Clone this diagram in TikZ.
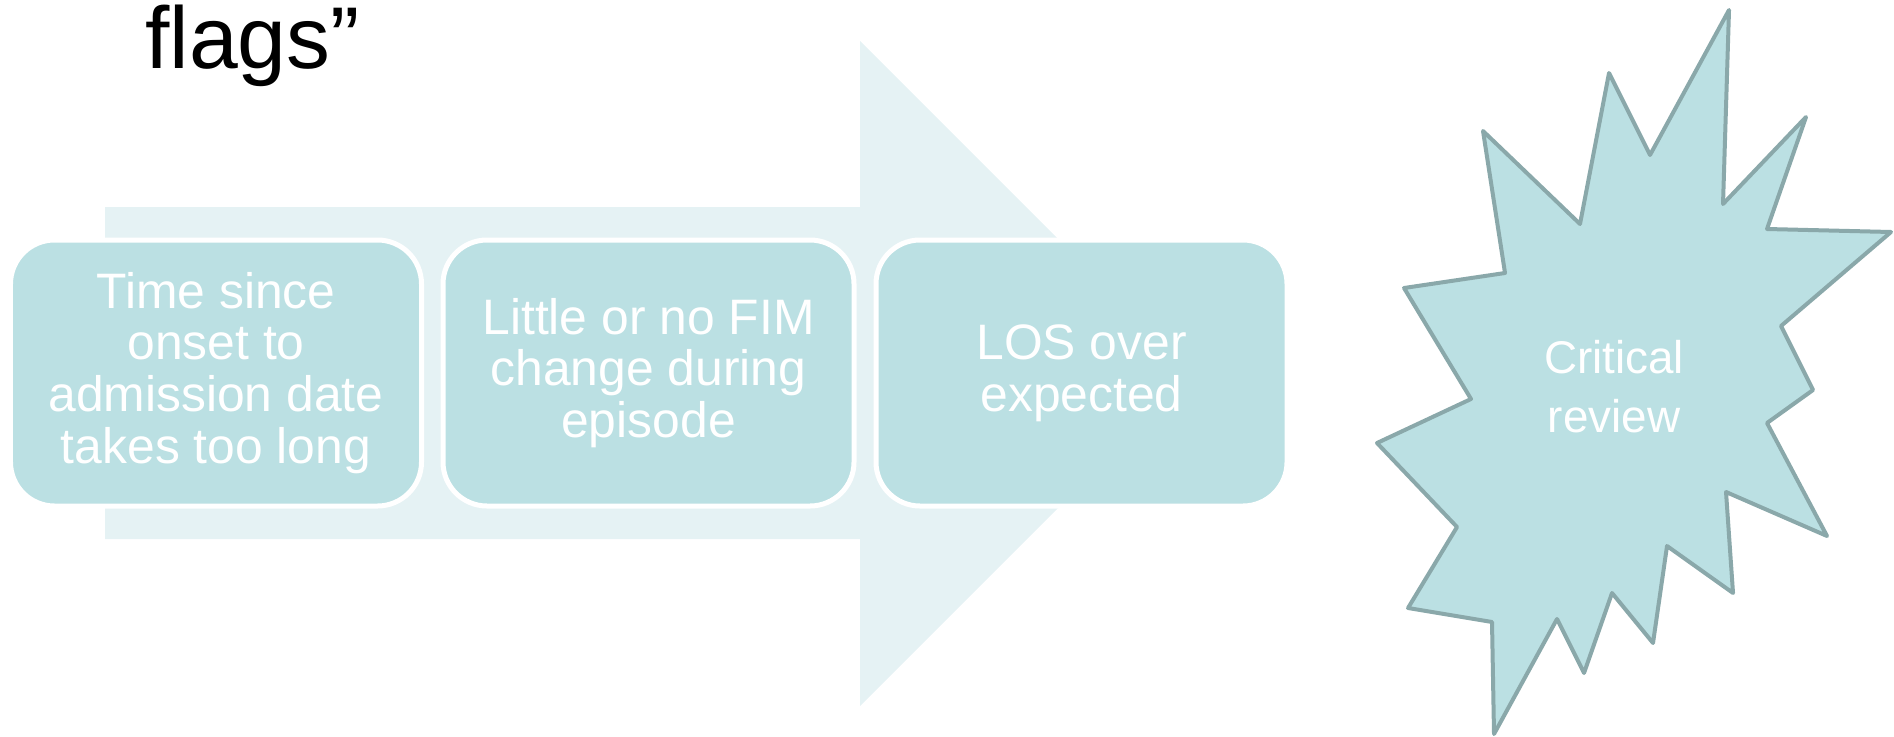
\documentclass[tikz,border=0pt]{standalone}
\usepackage{fontspec}
\setmainfont{Liberation Sans}
\definecolor{arrowtint}{HTML}{E5F2F4}
\definecolor{boxfill}{HTML}{BBE0E3}
\definecolor{starline}{HTML}{8AA8AA}
\begin{document}
\begin{tikzpicture}[x=0.5bp,y=-0.5bp,
  flagbox/.style={draw=white, line width=2.5bp, fill=boxfill,
    rounded corners=22bp, minimum width=205.5bp, minimum height=133bp,
    inner sep=0pt, text=white, align=center,
    font=\fontsize{25}{26}\selectfont},
  burst/.style={fill=boxfill, draw=starline, line width=2bp, line join=round},
  bursttext/.style={text=white, align=center, font=\fontsize{23}{29.5}\selectfont}
]
\useasboundingbox (0,0) rectangle (1894,736);

% heading fragment
\node[anchor=base west, inner sep=0pt, font=\fontsize{44}{52}\selectfont]
  (title) at (145,68) {flags”};

% background block arrow
\fill[arrowtint] (105,207) -- (860,207) -- (860,41) -- (1192.5,373.5)
  -- (860,706) -- (860,539) -- (105,539) -- cycle;

% the three flags
\node[flagbox] (onset) at (216,373)
  {Time since\\onset to\\admission date\\takes too long};
\node[flagbox] (fim) at (648.5,373)
  {Little or no FIM\\change during\\episode};
\node[flagbox] (los) at (1081.5,373)
  {LOS over\\expected};

% burst shape
\draw[burst] (1483,131) -- (1580,224) -- (1609,73) -- (1650,155)
  -- (1729,10) -- (1723,204) -- (1806,117) -- (1767,229) -- (1891,232)
  -- (1781,326) -- (1813,390) -- (1767,423) -- (1827,536) -- (1726,492)
  -- (1733,593) -- (1667,546) -- (1653,643) -- (1612,593) -- (1584,673)
  -- (1557,619) -- (1494,734) -- (1492,622) -- (1408,608) -- (1457,527)
  -- (1377,443) -- (1471,399) -- (1404,288) -- (1505,273) -- cycle;
\node[bursttext] (review) at (1614,387) {Critical\\review};
\end{tikzpicture}
\end{document}
